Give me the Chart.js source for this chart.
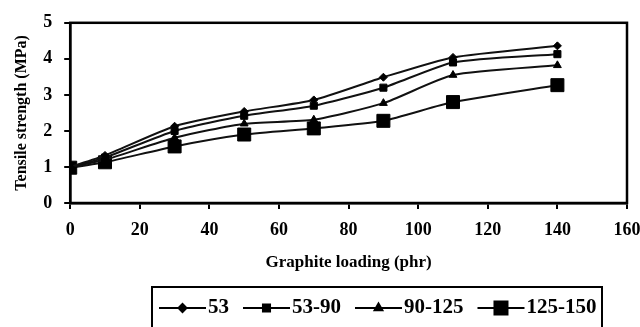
<!DOCTYPE html>
<html>
<head>
<meta charset="utf-8">
<script src="https://cdn.jsdelivr.net/npm/chart.js@4/dist/chart.umd.min.js"></script>
<style>
  html, body { margin: 0; background: #fff; }
  #wrap { width: 640px; height: 327px; }
</style>
</head>
<body>
<div id="wrap"><canvas id="myChart"></canvas></div>
<script>
const loading = [0, 10, 30, 50, 70, 90, 110, 140];
const s53 = [1.0, 1.32, 2.13, 2.54, 2.86, 3.49, 4.04, 4.36];
const s53to90 = [1.0, 1.26, 2.0, 2.42, 2.7, 3.2, 3.9, 4.13];
const s90to125 = [1.0, 1.2, 1.81, 2.2, 2.31, 2.77, 3.55, 3.82];
const s125to150 = [0.98, 1.13, 1.57, 1.9, 2.07, 2.28, 2.8, 3.27];
const seriesNames = ["53", "53-90", "90-125", "125-150"];
const xTickMax = 160;
const yTickMax = 5;

const serif = "'Liberation Serif', 'Times New Roman', serif";
const toPoints = (ys) => ys.map((y, i) => ({ x: loading[i], y }));

const markers = [
  { style: "rectRot", radius: 4 },
  { style: "rect", radius: 5 },
  { style: "triangle", radius: 4.5 },
  { style: "rect", radius: 9.2 },
];

const datasets = [s53, s53to90, s90to125, s125to150].map((ys, i) => ({
  label: seriesNames[i],
  data: toPoints(ys),
  borderColor: "#111",
  borderWidth: 2,
  backgroundColor: "#000",
  pointStyle: markers[i].style,
  pointRadius: markers[i].radius,
  pointBackgroundColor: "#000",
  pointBorderColor: "#000",
  pointBorderWidth: 1,
  tension: 0.2,
}));

// box around the plot area
const frame = {
  id: "frame",
  afterDatasetsDraw(chart) {
    const { ctx, chartArea: a } = chart;
    ctx.save();
    ctx.lineWidth = 2.5;
    ctx.strokeStyle = "#000";
    ctx.strokeRect(a.left, a.top, a.right - a.left, a.bottom - a.top);
    ctx.restore();
  },
};

// excel style legend: line + marker, inside a box
const legendBox = {
  id: "legendBox",
  afterDraw(chart) {
    const ctx = chart.ctx;
    ctx.save();
    ctx.strokeStyle = "#000";
    ctx.fillStyle = "#000";
    ctx.lineWidth = 2;
    ctx.strokeRect(152, 287, 450, 50);
    ctx.font = "bold 21px " + serif;
    ctx.textBaseline = "middle";
    let x = 159;
    const y = 308;
    chart.data.datasets.forEach((ds) => {
      ctx.lineWidth = 2;
      ctx.beginPath();
      ctx.moveTo(x, y);
      ctx.lineTo(x + 47, y);
      ctx.stroke();
      Chart.helpers.drawPoint(ctx, { pointStyle: ds.pointStyle, radius: ds.pointRadius, borderWidth: 1 }, x + 23.5, y);
      ctx.fillText(ds.label, x + 49, y);
      x += 49 + ctx.measureText(ds.label).width + 14;
    });
    ctx.restore();
  },
};

new Chart(document.getElementById("myChart"), {
  type: "line",
  data: { datasets },
  plugins: [frame, legendBox],
  options: {
    responsive: true,
    maintainAspectRatio: false,
    animation: false,
    layout: { padding: { left: 2, right: 0, top: 14, bottom: 54 } },
    plugins: { legend: { display: false }, tooltip: { enabled: false } },
    scales: {
      x: {
        type: "linear",
        min: 0,
        max: xTickMax,
        afterFit: (scale) => { scale.paddingRight = 13; },
        ticks: { stepSize: 20, color: "#000", font: { family: serif, size: 18, weight: "bold" }, padding: 11, maxRotation: 0 },
        grid: { drawOnChartArea: false, color: "#000", tickLength: 6, lineWidth: 2 },
        border: { color: "#000", width: 2.5 },
        title: { display: true, text: "Graphite loading (phr)", color: "#000", font: { family: serif, size: 17, weight: "bold" }, padding: { top: 0, bottom: 0 } },
      },
      y: {
        min: 0,
        max: yTickMax,
        ticks: { stepSize: 1, color: "#000", font: { family: serif, size: 18, weight: "bold" }, padding: 12 },
        grid: { drawOnChartArea: false, color: "#000", tickLength: 6, lineWidth: 2 },
        border: { color: "#000", width: 2.5 },
        title: { display: true, text: "Tensile strength (MPa)", color: "#000", font: { family: serif, size: 16, weight: "bold" }, padding: { top: 10, bottom: 0 } },
      },
    },
  },
});
</script>
</body>
</html>
